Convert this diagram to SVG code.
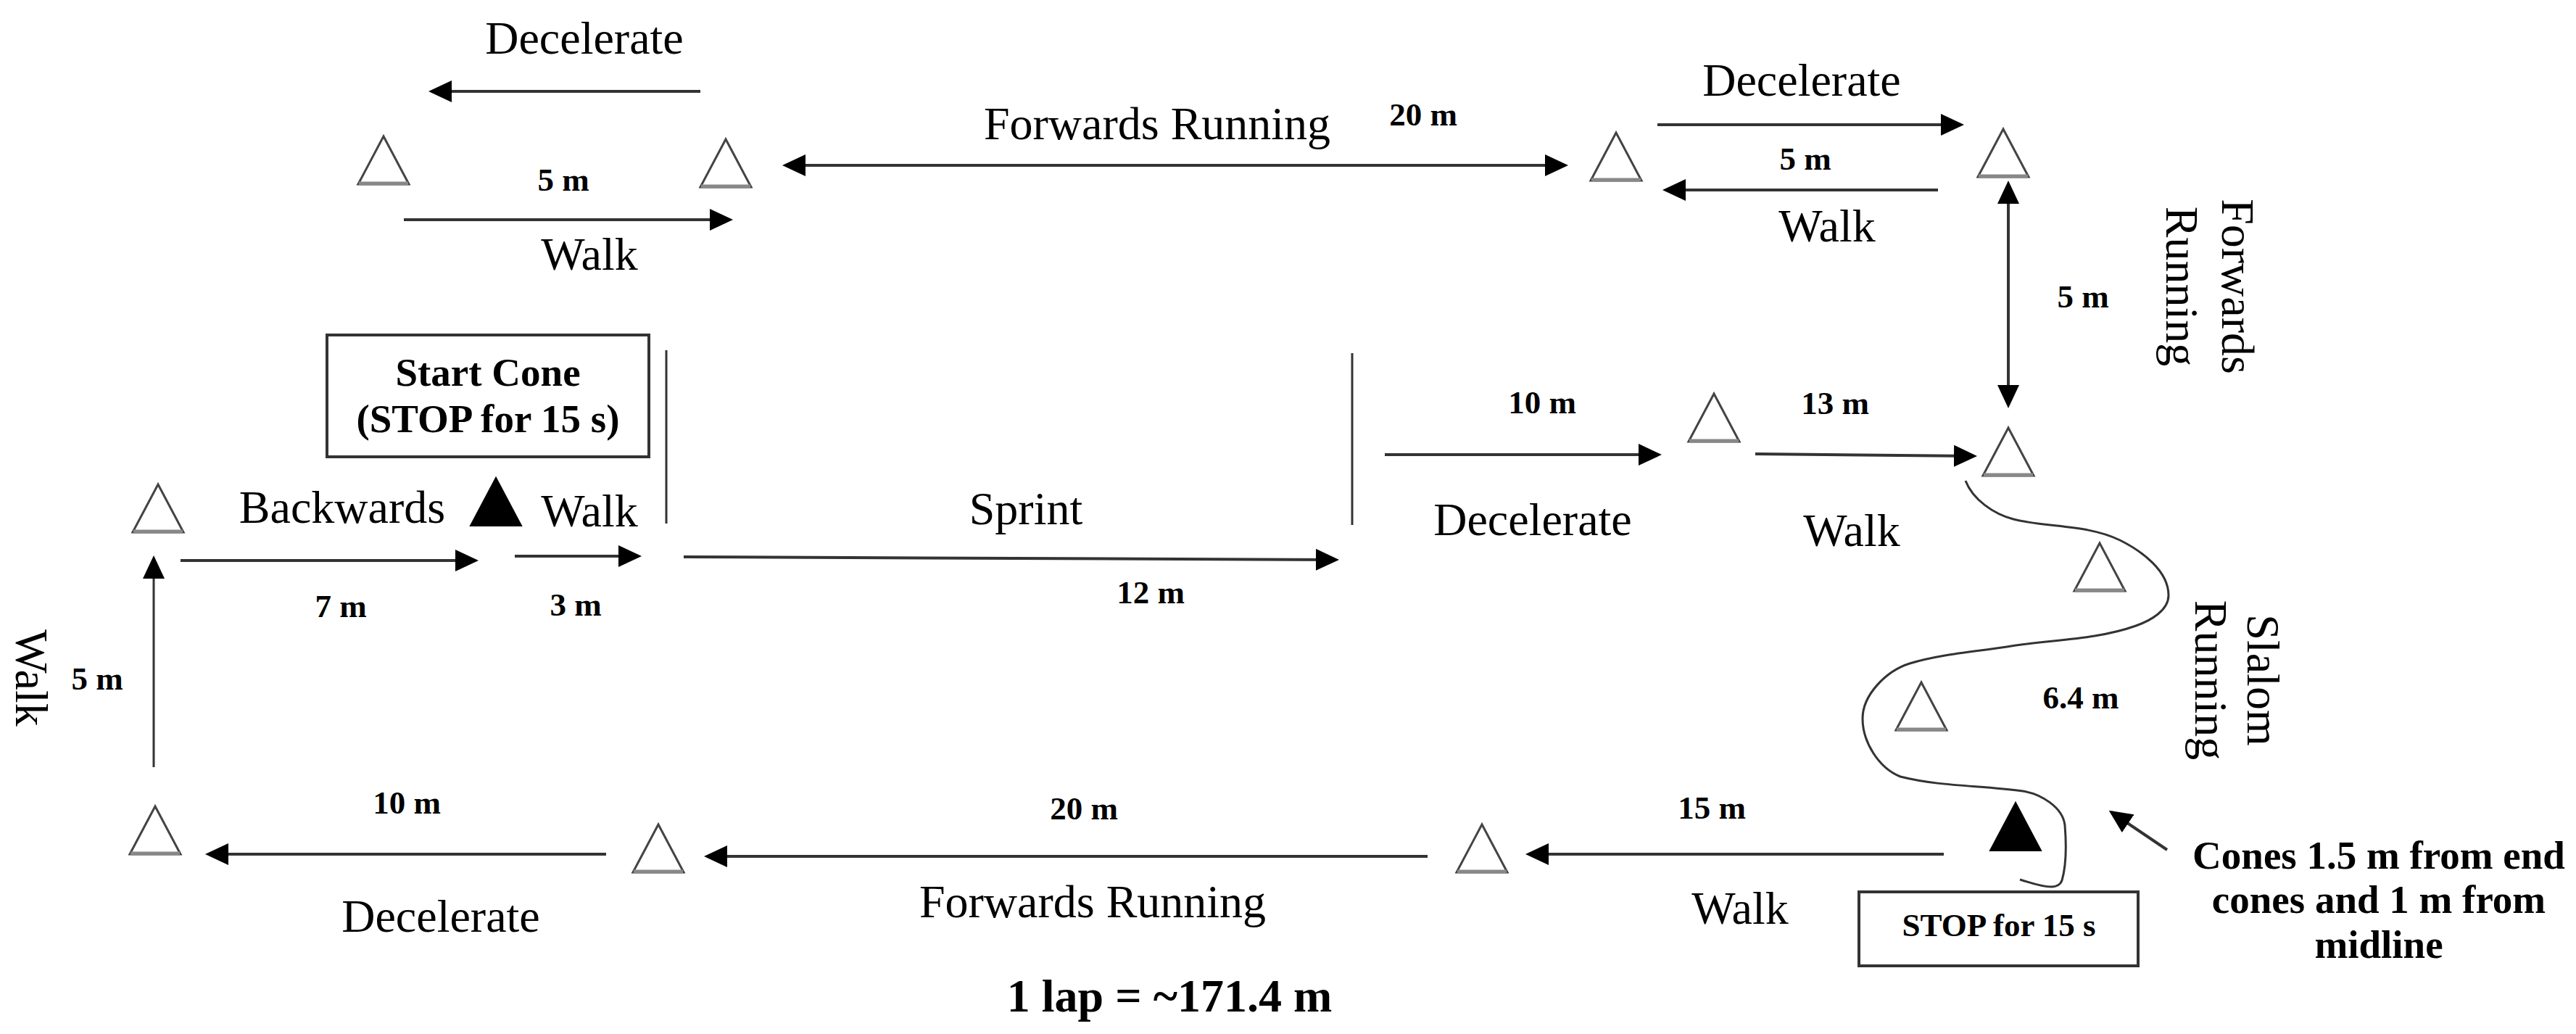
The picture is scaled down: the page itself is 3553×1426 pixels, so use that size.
<svg xmlns="http://www.w3.org/2000/svg" xmlns:xlink="http://www.w3.org/1999/xlink" width="3553" height="1426" viewBox="0 0 3553 1426">
<style>
.bg{fill:#ffffff}
.lbl{font-family:"Liberation Serif","Times New Roman",serif;font-size:64px;fill:#000;text-anchor:middle}
.dist{font-family:"Liberation Serif","Times New Roman",serif;font-size:45px;font-weight:bold;fill:#000;text-anchor:middle}
.note{font-family:"Liberation Serif","Times New Roman",serif;font-size:55px;font-weight:bold;fill:#000;text-anchor:middle}
.big{font-family:"Liberation Serif","Times New Roman",serif;font-size:64px;font-weight:bold;fill:#000;text-anchor:middle}
.cone{fill:#fff;stroke:#444;stroke-width:3;stroke-linejoin:miter}
.conebase{stroke:#888;stroke-width:5}
.solid{fill:#000;stroke:#000;stroke-width:2}
.arr{stroke:#333;stroke-width:4;fill:none;marker-end:url(#head)}
.darr{stroke:#333;stroke-width:4;fill:none;marker-end:url(#head);marker-start:url(#headS)}
.thin{stroke:#333;stroke-width:3;fill:none}
.box{fill:#fff;stroke:#333;stroke-width:4}
.path{stroke:#333;stroke-width:3;fill:none}
</style>
<defs>
<marker id="head" viewBox="0 0 32 30" refX="28" refY="15" markerWidth="32" markerHeight="30" markerUnits="userSpaceOnUse" orient="auto">
<path d="M0,0 L32,15 L0,30 Z" fill="#000"/>
</marker>
<marker id="headS" viewBox="0 0 32 30" refX="28" refY="15" markerWidth="32" markerHeight="30" markerUnits="userSpaceOnUse" orient="auto-start-reverse">
<path d="M0,0 L32,15 L0,30 Z" fill="#000"/>
</marker>
<g id="cone">
<path class="cone" d="M0,0 L-35,66 L35,66 Z"/>
<line class="conebase" x1="-34" y1="65" x2="34" y2="65"/>
</g>
<path id="fcone" class="solid" d="M0,0 L-35,66 L35,66 Z"/>
</defs>
<rect class="bg" x="0" y="0" width="3553" height="1426"/>

<g id="connectors">
<line class="arr" x1="966" y1="126" x2="595" y2="126"/>
<line class="arr" x1="557" y1="303" x2="1007" y2="303"/>
<line class="darr" x1="1083" y1="228" x2="2159" y2="228"/>
<line class="arr" x1="2286" y1="172" x2="2705" y2="172"/>
<line class="arr" x1="2673" y1="262" x2="2297" y2="262"/>
<line class="darr" x1="2770" y1="253" x2="2770" y2="559"/>
<line class="arr" x1="249" y1="773" x2="656" y2="773"/>
<line class="arr" x1="710" y1="767" x2="881" y2="767"/>
<line class="arr" x1="943" y1="768" x2="1843" y2="772"/>
<line class="arr" x1="1910" y1="627" x2="2288" y2="627"/>
<line class="arr" x1="2421" y1="626" x2="2723" y2="629"/>
<line class="arr" style="stroke-width:3" x1="212" y1="1058" x2="212" y2="770"/>
<line class="arr" x1="836" y1="1178" x2="287" y2="1178"/>
<line class="arr" x1="1969" y1="1181" x2="975" y2="1181"/>
<line class="arr" x1="2681" y1="1178" x2="2108" y2="1178"/>
<line class="arr" x1="2989" y1="1172" x2="2912" y2="1120"/>
<line class="thin" x1="919" y1="483" x2="919" y2="722"/>
<line class="thin" x1="1865" y1="487" x2="1865" y2="724"/>
<path class="path" d="M2711,663 C2721,689 2750,709 2777,716 C2825,728 2879,723 2924,745 C2954,760 2991,787 2991,821 C2991,842 2966,856 2946,863 C2890,883 2827,882 2768,892 C2723,899 2677,902 2634,915 C2602,925 2569,958 2569,991 C2569,1023 2591,1059 2621,1071 C2676,1085 2734,1083 2790,1091 C2815,1095 2845,1113 2848,1138 C2850,1163 2851,1190 2844,1214 C2842,1220 2836,1223 2830,1223 C2815,1223 2800,1217 2786,1213"/>
</g>

<g id="cone-top-1"><use xlink:href="#cone" x="529" y="188"/></g>
<g id="cone-top-2"><use xlink:href="#cone" x="1001" y="192"/></g>
<g id="cone-top-3"><use xlink:href="#cone" x="2229" y="183"/></g>
<g id="cone-top-4"><use xlink:href="#cone" x="2763" y="178"/></g>
<g id="cone-mid-left"><use xlink:href="#cone" x="218" y="668"/></g>
<g id="cone-start"><use xlink:href="#fcone" x="684" y="659"/></g>
<g id="cone-mid-10m"><use xlink:href="#cone" x="2364" y="543"/></g>
<g id="cone-mid-right"><use xlink:href="#cone" x="2770" y="590"/></g>
<g id="cone-slalom-1"><use xlink:href="#cone" x="2896" y="749"/></g>
<g id="cone-slalom-2"><use xlink:href="#cone" x="2650" y="941"/></g>
<g id="cone-stop"><use xlink:href="#fcone" x="2780" y="1107"/></g>
<g id="cone-bottom-left"><use xlink:href="#cone" x="214" y="1112"/></g>
<g id="cone-bottom-2"><use xlink:href="#cone" x="908" y="1137"/></g>
<g id="cone-bottom-3"><use xlink:href="#cone" x="2044" y="1137"/></g>

<g id="start-box">
<rect class="box" x="451" y="462" width="444" height="168"/>
<text class="note" x="673" y="532">Start Cone</text>
<text class="note" x="673" y="596">(STOP for 15 s)</text>
</g>
<g id="stop-box">
<rect class="box" x="2564" y="1230" width="385" height="102"/>
<text class="dist" x="2757" y="1291">STOP for 15 s</text>
</g>

<g id="labels">
<text class="lbl" x="806" y="74">Decelerate</text>
<text class="dist" x="777" y="263">5 m</text>
<text class="lbl" x="813" y="372">Walk</text>
<text class="lbl" x="1596" y="192">Forwards Running</text>
<text class="dist" x="1963" y="173">20 m</text>
<text class="lbl" x="2485" y="132">Decelerate</text>
<text class="dist" x="2490" y="234">5 m</text>
<text class="lbl" x="2520" y="333">Walk</text>
<text class="dist" x="2873" y="424">5 m</text>
<text class="lbl" transform="translate(3065,395) rotate(90)">Forwards</text>
<text class="lbl" transform="translate(2988,395) rotate(90)">Running</text>
<text class="lbl" x="472" y="721">Backwards</text>
<text class="lbl" x="813" y="726">Walk</text>
<text class="dist" x="470" y="851">7 m</text>
<text class="dist" x="794" y="849">3 m</text>
<text class="lbl" x="1415" y="723">Sprint</text>
<text class="dist" x="1587" y="832">12 m</text>
<text class="dist" x="2127" y="570">10 m</text>
<text class="lbl" x="2114" y="738">Decelerate</text>
<text class="dist" x="2531" y="571">13 m</text>
<text class="lbl" x="2554" y="753">Walk</text>
<text class="dist" x="2870" y="977">6.4 m</text>
<text class="lbl" transform="translate(3100,938) rotate(90)">Slalom</text>
<text class="lbl" transform="translate(3028,938) rotate(90)">Running</text>
<text class="lbl" transform="translate(22,935) rotate(90)">Walk</text>
<text class="dist" x="134" y="951">5 m</text>
<text class="dist" x="561" y="1122">10 m</text>
<text class="lbl" x="608" y="1285">Decelerate</text>
<text class="dist" x="1495" y="1130">20 m</text>
<text class="lbl" x="1507" y="1265">Forwards Running</text>
<text class="dist" x="2361" y="1129">15 m</text>
<text class="lbl" x="2400" y="1274">Walk</text>
<text class="note" x="3281" y="1198">Cones 1.5 m from end</text>
<text class="note" x="3281" y="1259">cones and 1 m from</text>
<text class="note" x="3281" y="1321">midline</text>
<text class="big" x="1613" y="1395">1 lap = ~171.4 m</text>
</g>
</svg>
